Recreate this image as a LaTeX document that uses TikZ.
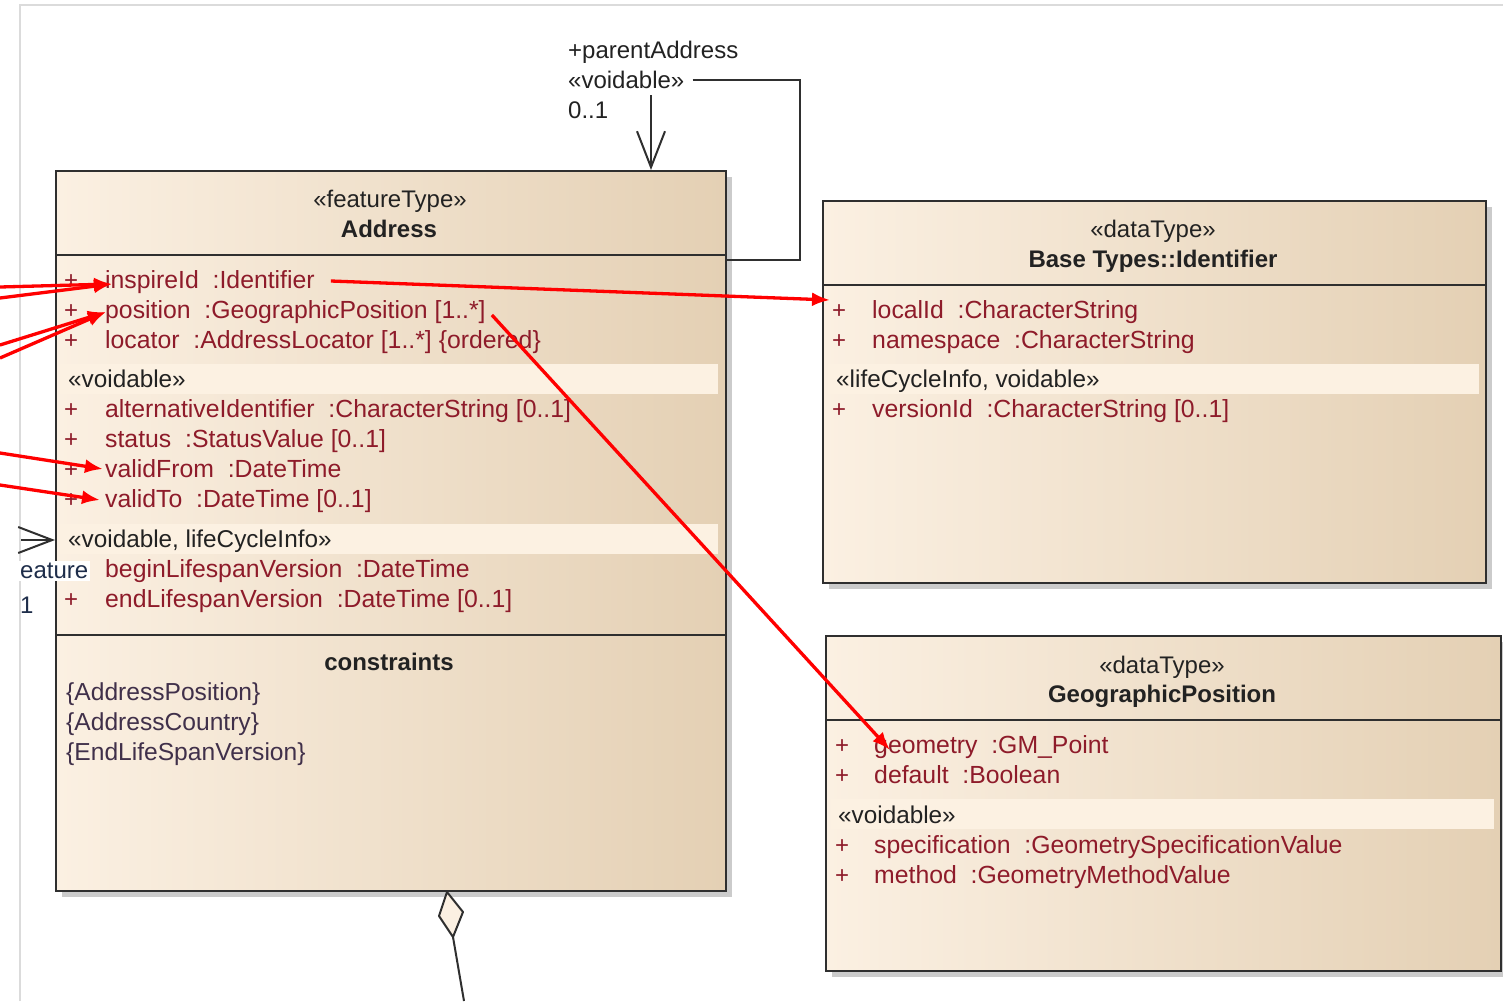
\documentclass[tikz,border=0pt]{standalone}
\usepackage{fontspec}
\setmainfont{Liberation Sans}
\usetikzlibrary{arrows.meta,calc,shadows}
\definecolor{cream}{HTML}{FBF0E2}
\definecolor{creammid}{HTML}{F6E8D5}
\definecolor{tanc}{HTML}{E4D0B4}
\definecolor{bandc}{HTML}{FCF1E2}
\definecolor{attrred}{HTML}{8E1B2A}
\definecolor{framec}{HTML}{2F2F2F}
\definecolor{darktext}{HTML}{222222}
\definecolor{constr}{HTML}{40304A}
\definecolor{navy}{HTML}{1E2D4A}
\begin{document}
\begin{tikzpicture}[x=1pt,y=-1pt,
  umlbox/.style={draw=framec, line width=2pt, left color=cream, middle color=creammid, right color=tanc,
    drop shadow={shadow xshift=6pt, shadow yshift=-6pt, fill=black!40, opacity=.5},
    anchor=north west, inner sep=0pt},
  sepline/.style={draw=framec, line width=2pt},
  bandfill/.style={fill=bandc},
  attr/.style={anchor=base west, inner sep=0pt, text=attrred, font=\fontsize{24.8}{25}\selectfont},
  plus/.style={anchor=base west, inner sep=0pt, text=attrred, font=\fontsize{24}{24}\selectfont},
  stereo/.style={anchor=base west, inner sep=0pt, text=darktext, font=\fontsize{24.3}{25}\selectfont},
  title/.style={anchor=base, inner sep=0pt, text=darktext, font=\fontsize{24}{24}\selectfont},
  boldtitle/.style={anchor=base, inner sep=0pt, text=darktext, font=\fontsize{24}{24}\selectfont\bfseries},
  constrtext/.style={anchor=base west, inner sep=0pt, text=constr, font=\fontsize{24.6}{25}\selectfont},
  lbl/.style={anchor=base west, inner sep=0pt, text=darktext, font=\fontsize{24}{24}\selectfont},
  assoc/.style={draw=framec, line width=2pt},
  redarrow/.style={draw=red, line width=3.3pt, -{Latex[length=18pt,width=14pt]}}
]
\useasboundingbox (0,0) rectangle (1503,1001);
\fill[white] (0,0) rectangle (1503,1001);
% page frame
\draw[black!14, line width=2pt] (20,1001) -- (20,5) -- (1503,5);

% ===== Address =====
\node[umlbox, minimum width=670pt, minimum height=720pt] (addr) at (55,170) {};
\draw[sepline] (55,255) -- (725,255);
\draw[sepline] (55,635) -- (725,635);
\fill[bandfill] (60,364) rectangle (718,394);
\fill[bandfill] (60,524) rectangle (718,554);
\node[title] (addrSt) at (390,207) {«featureType»};
\node[boldtitle] (addrName) at (389,237) {Address};
\node[plus] at (64,288) {+};
\node[attr] (inspireId) at (105,288) {inspireId\ \ :Identifier};
\node[plus] at (64,318) {+};
\node[attr] (position) at (105,318) {position\ \ :GeographicPosition [1..*]};
\node[plus] at (64,348) {+};
\node[attr] (locator) at (105,348) {locator\ \ :AddressLocator [1..*] \{ordered\}};
\node[stereo] (addrVoid) at (68,387) {«voidable»};
\node[plus] at (64,417) {+};
\node[attr] (altId) at (105,417) {alternativeIdentifier\ \ :CharacterString [0..1]};
\node[plus] at (64,447) {+};
\node[attr] (status) at (105,447) {status\ \ :StatusValue [0..1]};
\node[plus] at (64,477) {+};
\node[attr] (validFrom) at (105,477) {validFrom\ \ :DateTime};
\node[plus] at (64,507) {+};
\node[attr] (validTo) at (105,507) {validTo\ \ :DateTime [0..1]};
\node[stereo] (addrVoidLC) at (68,547) {«voidable, lifeCycleInfo»};
\node[attr] (beginLs) at (105,577) {beginLifespanVersion\ \ :DateTime};
\node[plus] at (64,607) {+};
\node[attr] (endLs) at (105,607) {endLifespanVersion\ \ :DateTime [0..1]};
\node[boldtitle] (constrTitle) at (389,670) {constraints};
\node[constrtext] (c1) at (66,700) {\{AddressPosition\}};
\node[constrtext] (c2) at (66,730) {\{AddressCountry\}};
\node[constrtext] (c3) at (66,760) {\{EndLifeSpanVersion\}};

% ===== Base Types::Identifier =====
\node[umlbox, minimum width=663pt, minimum height=382pt] (ident) at (822,200) {};
\draw[sepline] (822,285) -- (1485,285);
\fill[bandfill] (828,364) rectangle (1479,394);
\node[title] (idSt) at (1153,237) {«dataType»};
\node[boldtitle] (idName) at (1153,267) {Base Types::Identifier};
\node[plus] at (832,318) {+};
\node[attr] (localId) at (872,318) {localId\ \ :CharacterString};
\node[plus] at (832,348) {+};
\node[attr] (namespace) at (872,348) {namespace\ \ :CharacterString};
\node[stereo] (idLC) at (836,387) {«lifeCycleInfo, voidable»};
\node[plus] at (832,417) {+};
\node[attr] (versionId) at (872,417) {versionId\ \ :CharacterString [0..1]};

% ===== GeographicPosition =====
\node[umlbox, minimum width=675pt, minimum height=335pt] (geo) at (825,635) {};
\draw[sepline] (825,720) -- (1500,720);
\fill[bandfill] (831,799) rectangle (1494,829);
\node[title] (geoSt) at (1162,673) {«dataType»};
\node[boldtitle] (geoName) at (1162,702) {GeographicPosition};
\node[plus] at (835,753) {+};
\node[attr] (geometry) at (874,753) {geometry\ \ :GM\_Point};
\node[plus] at (835,783) {+};
\node[attr] (default) at (874,783) {default\ \ :Boolean};
\node[stereo] (geoVoid) at (838,823) {«voidable»};
\node[plus] at (835,853) {+};
\node[attr] (spec) at (874,853) {specification\ \ :GeometrySpecificationValue};
\node[plus] at (835,883) {+};
\node[attr] (method) at (874,883) {method\ \ :GeometryMethodValue};

% ===== self association =====
\node[lbl] (paName) at (568,58) {+parentAddress};
\node[lbl] (paVoid) at (568,88) {«voidable»};
\node[lbl] (paMult) at (568,118) {0..1};
\coordinate (saA) at (800,80);
\coordinate (saB) at (800,260);
\coordinate (saTop) at (651,95);
\draw[assoc] ($(paVoid.base east)+(8,-8)$) -- (saA) -- (saB) -- (addr.east |- saB);
\draw[assoc, -{Straight Barb[length=36pt,width=28pt,line width=2pt]}] (saTop) -- (addr.north -| saTop);

% ===== left association end =====
\coordinate (leftEnd) at (21,540);
\draw[assoc, -{Straight Barb[length=34pt,width=26pt,line width=2pt]}] (leftEnd) -- (addr.west |- leftEnd);
\node[anchor=west, fill=white, inner sep=2pt, text=navy, font=\fontsize{24}{24}\selectfont] (eature) at (18,571) {eature};
\node[lbl, text=navy] (mult1) at (20,613) {1};

% ===== aggregation at bottom =====
\coordinate (dTop) at (447,892);
\coordinate (dBot) at (453,937);
\coordinate (aggEnd) at (464,1001);
\draw[framec, line width=2pt, fill=cream, line join=round] (dTop) -- (439,916) -- (dBot) -- (463,912) -- cycle;
\draw[assoc] (dBot) -- (aggEnd);

% ===== red arrows =====
\coordinate (inA) at (0,287);
\coordinate (inB) at (0,298);
\coordinate (posA) at (0,345);
\coordinate (posB) at (0,358);
\coordinate (vfA) at (0,453);
\coordinate (vtA) at (0,485);
\draw[redarrow] (inA) -- ($(inspireId.base west)+(7,-4)$);
\draw[redarrow] (inB) -- ($(inspireId.base west)+(7,-4)$);
\draw[redarrow] (posA) -- ($(position.base west)+(1,-6)$);
\draw[redarrow] (posB) -- ($(position.base west)+(1,-6)$);
\draw[redarrow] (vfA) -- ($(validFrom.base west)+(-2,-8)$);
\draw[redarrow] (vtA) -- ($(validTo.base west)+(-5,-7)$);
\draw[redarrow] ($(inspireId.base east)+(16,-7)$) -- ($(localId.base west)+(-42,-18)$);
\draw[redarrow] ($(position.base east)+(6,-3)$) -- ($(geometry.base west)+(16,-3)$);
\end{tikzpicture}
\end{document}
